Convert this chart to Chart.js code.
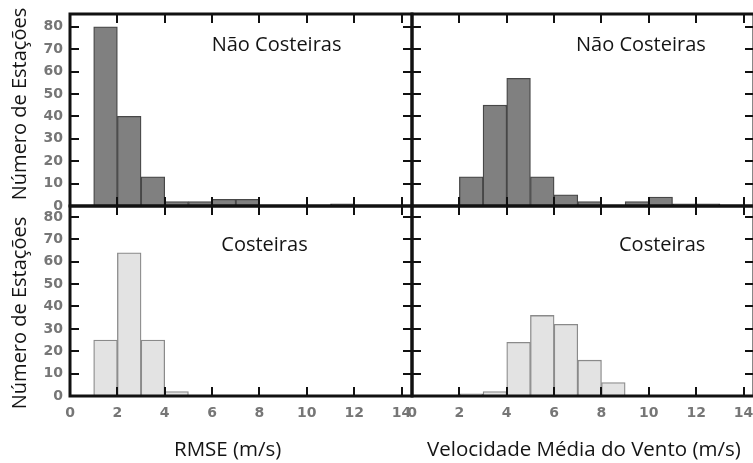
<!DOCTYPE html>
<html><head><meta charset="utf-8">
<script src="https://cdn.jsdelivr.net/npm/chart.js@4"></script>
<style>
html,body{margin:0;padding:0;background:#fff;}
#wrap{position:relative;width:753px;height:463px;overflow:hidden;background:#fff;}
canvas{position:absolute;left:0;top:0;}
.t{position:absolute;font-family:"Open Sans",sans-serif;color:#141414;white-space:nowrap;line-height:1;}
</style></head><body>
<div id="wrap">
<canvas id="c1" width="760" height="463" style="width:760px;height:463px"></canvas>
<canvas id="c2" width="760" height="463" style="width:760px;height:463px"></canvas>
<canvas id="c3" width="760" height="463" style="width:760px;height:463px"></canvas>
<canvas id="c4" width="760" height="463" style="width:760px;height:463px"></canvas>
</div>
<script>
// ---- data (bin start of each 1 m/s bin, counts per bin) ----
const binStarts = [0,1,2,3,4,5,6,7,8,9,10,11,12,13];
const rmseNonCoastal = [0,80,40,13,2,2,3,3,0,0,0,1,0,0];
const windNonCoastal = [0,0,13,45,57,13,5,2,0,2,4,1,1,0];
const rmseCoastal    = [0,25,64,25,2,0,0,0,0,0,0,0,0,0];
const windCoastal    = [0,0,1,2,24,36,32,16,6,0,0,0,0,0];
const xTickValues = [0,2,4,6,8,10,12,14];
const yTickValues = [0,10,20,30,40,50,60,70,80];
const panelLabels = ['Não Costeiras','Costeiras'];
const yAxisTitle = 'Número de Estações';
const xAxisTitles = ['RMSE (m/s)','Velocidade Média do Vento (m/s)'];

const X_MAX = 14.44;
const CW = 760, CH = 463;
const Y_SCALE_W = 45, X_SCALE_H = 30;

const framePlugin = {
  id: 'frame',
  afterDraw(chart) {
    const {ctx, chartArea: a} = chart;
    const x = chart.scales.x, y = chart.scales.y;
    const L = 9;
    ctx.save();
    ctx.strokeStyle = '#111';
    ctx.lineWidth = 2;
    ctx.beginPath();
    x.ticks.forEach(t => {
      if (t.value <= 0) return;
      const px = Math.round(x.getPixelForValue(t.value));
      ctx.moveTo(px, a.top); ctx.lineTo(px, a.top + L);
      ctx.moveTo(px, a.bottom); ctx.lineTo(px, a.bottom - L);
    });
    y.ticks.forEach(t => {
      if (t.value <= 0) return;
      const py = Math.round(y.getPixelForValue(t.value));
      ctx.moveTo(a.left, py); ctx.lineTo(a.left + L, py);
      ctx.moveTo(a.right, py); ctx.lineTo(a.right - L, py);
    });
    ctx.stroke();
    ctx.lineWidth = 3;
    ctx.strokeRect(a.left, a.top, a.right - a.left, a.bottom - a.top);
    ctx.restore();
  }
};

function makePanel(id, values, area, yMax, showX, showY, fill, edge) {
  const yw = showY ? Y_SCALE_W : 0;
  const xh = showX ? X_SCALE_H : 0;
  new Chart(document.getElementById(id), {
    type: 'bar',
    data: {
      datasets: [{
        data: binStarts.map((b, i) => ({x: b + 0.5, y: values[i]})),
        backgroundColor: fill,
        borderColor: edge,
        borderWidth: 1.3,
        borderSkipped: false,
        barPercentage: 1,
        categoryPercentage: 1
      }]
    },
    options: {
      responsive: false,
      animation: false,
      devicePixelRatio: 1,
      layout: {padding: {left: area.l - yw, top: area.t, right: CW - area.r, bottom: CH - area.b - xh}},
      plugins: {legend: {display: false}, tooltip: {enabled: false}, title: {display: false}},
      scales: {
        x: {
          type: 'linear', min: 0, max: X_MAX, offset: false,
          grid: {display: false, drawTicks: false},
          border: {display: false},
          afterBuildTicks: s => { s.ticks = xTickValues.map(v => ({value: v})); },
          afterFit: s => { s.height = xh; s.paddingLeft = 0; s.paddingRight = 0; },
          ticks: {display: showX, autoSkip: false, maxRotation: 0, padding: 9,
                  color: '#767676', font: {family: 'DejaVu Sans', size: 14, weight: 'bold'}}
        },
        y: {
          min: 0, max: yMax,
          grid: {display: false, drawTicks: false},
          border: {display: false},
          afterBuildTicks: s => { s.ticks = yTickValues.map(v => ({value: v})); },
          afterFit: s => { s.width = yw; s.paddingTop = 0; s.paddingBottom = 0; },
          ticks: {display: showY, autoSkip: false, padding: 7,
                  color: '#767676', font: {family: 'DejaVu Sans', size: 14, weight: 'bold'}}
        }
      }
    },
    plugins: [framePlugin]
  });
}

const darkFill = '#808080', darkEdge = '#474747';
const lightFill = '#e3e3e3', lightEdge = '#8a8a8a';
makePanel('c1', rmseNonCoastal, {l: 70, t: 14, r: 412, b: 206}, 85.7, false, true, darkFill, darkEdge);
makePanel('c2', windNonCoastal, {l: 412, t: 14, r: 754, b: 206}, 85.7, false, false, darkFill, darkEdge);
makePanel('c3', rmseCoastal, {l: 70, t: 206, r: 412, b: 396}, 84.9, true, true, lightFill, lightEdge);
makePanel('c4', windCoastal, {l: 412, t: 206, r: 754, b: 396}, 84.9, true, false, lightFill, lightEdge);

// ---- texts ----
const wrap = document.getElementById('wrap');
function addText(txt, cx, baseline, fs, rotate) {
  const d = document.createElement('div');
  d.className = 't';
  d.textContent = txt;
  d.style.fontSize = fs + 'px';
  wrap.appendChild(d);
  const w = d.offsetWidth;
  if (!rotate) {
    d.style.left = (cx - w / 2) + 'px';
    d.style.top = (baseline - 0.888 * fs) + 'px';
  } else {
    const centreX = baseline - 0.388 * fs;
    d.style.left = (centreX - w / 2) + 'px';
    d.style.top = (cx - fs / 2) + 'px';
    d.style.transform = 'rotate(-90deg)';
  }
}
addText(panelLabels[0], 276.7, 51.7, 20);
addText(panelLabels[0], 641, 51.7, 20);
addText(panelLabels[1], 264.3, 251.7, 20);
addText(panelLabels[1], 662, 251.7, 20);
addText(xAxisTitles[0], 227.5, 456, 20.5);
addText(xAxisTitles[1], 584, 456, 20.5);
addText(yAxisTitle, 104, 26.5, 20, true);
addText(yAxisTitle, 312.7, 26.5, 20, true);
</script>
</body></html>
